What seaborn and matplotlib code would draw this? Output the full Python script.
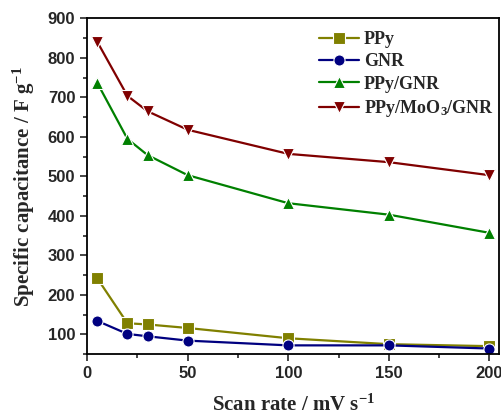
import pandas as pd
import matplotlib.pyplot as plt
import seaborn as sns
from matplotlib.ticker import MultipleLocator

scan_rate = [5, 20, 30, 50, 100, 150, 200]
ppy = [242, 128, 125, 116, 90, 75, 70]
gnr = [134, 101, 95, 84, 72, 72, 64]
ppy_gnr = [737, 595, 554, 503, 432, 403, 357]
ppy_moo3_gnr = [841, 704, 665, 618, 557, 536, 503]

names = ['PPy', 'GNR', 'PPy/GNR', 'PPy/MoO$_3$/GNR']
colors = ['#808000', '#000080', '#008000', '#800000']
markers = ['s', 'o', '^', 'v']

data = pd.DataFrame({
    'rate': scan_rate * 4,
    'cap': ppy + gnr + ppy_gnr + ppy_moo3_gnr,
    'sample': [n for n in names for _ in scan_rate],
})

sns.set_style('ticks')
plt.rcParams['font.family'] = ['Liberation Sans', 'DejaVu Sans']
plt.rcParams['mathtext.fontset'] = 'custom'
plt.rcParams['mathtext.rm'] = 'Liberation Serif:bold'
plt.rcParams['mathtext.it'] = 'Liberation Serif:bold'
plt.rcParams['mathtext.bf'] = 'Liberation Serif:bold'

fig = plt.figure(figsize=(5.01, 4.19), dpi=100)
ax = fig.add_axes([0.174, 0.155, 0.823, 0.801])

sns.lineplot(
    data=data, x='rate', y='cap', hue='sample', style='sample',
    hue_order=names, style_order=names, palette=colors,
    markers=markers, dashes=False, markersize=8, linewidth=1.6,
    markeredgewidth=0.8, markeredgecolor='white', ax=ax
)

ax.set_xlim(0, 205)
ax.set_ylim(50, 900)
ax.xaxis.set_major_locator(MultipleLocator(50))
ax.xaxis.set_minor_locator(MultipleLocator(25))
ax.yaxis.set_major_locator(MultipleLocator(100))
ax.yaxis.set_minor_locator(MultipleLocator(50))
ax.tick_params(which='major', direction='out', length=5, width=1.2, labelsize=12)
ax.tick_params(which='minor', direction='out', length=3, width=1.2)
for lbl in ax.get_xticklabels() + ax.get_yticklabels():
    lbl.set_fontweight('bold')
for sp in ax.spines.values():
    sp.set_linewidth(1.3)
    sp.set_color('black')

ax.set_xlabel('Scan rate / mV s$^{-1}$', fontsize=15,
              fontweight='bold', family='Liberation Serif', labelpad=10)
ax.set_ylabel('Specific capacitance / F g$^{-1}$', fontsize=15,
              fontweight='bold', family='Liberation Serif', labelpad=8)

leg = ax.legend(loc='upper right', frameon=False, handlelength=2.2,
                handletextpad=0.3, labelspacing=0.3, borderaxespad=0.2,
                prop={'family': 'Liberation Serif', 'weight': 'bold', 'size': 13},
                bbox_to_anchor=(1.013, 0.995))

fig.savefig('out.png', dpi=100)
